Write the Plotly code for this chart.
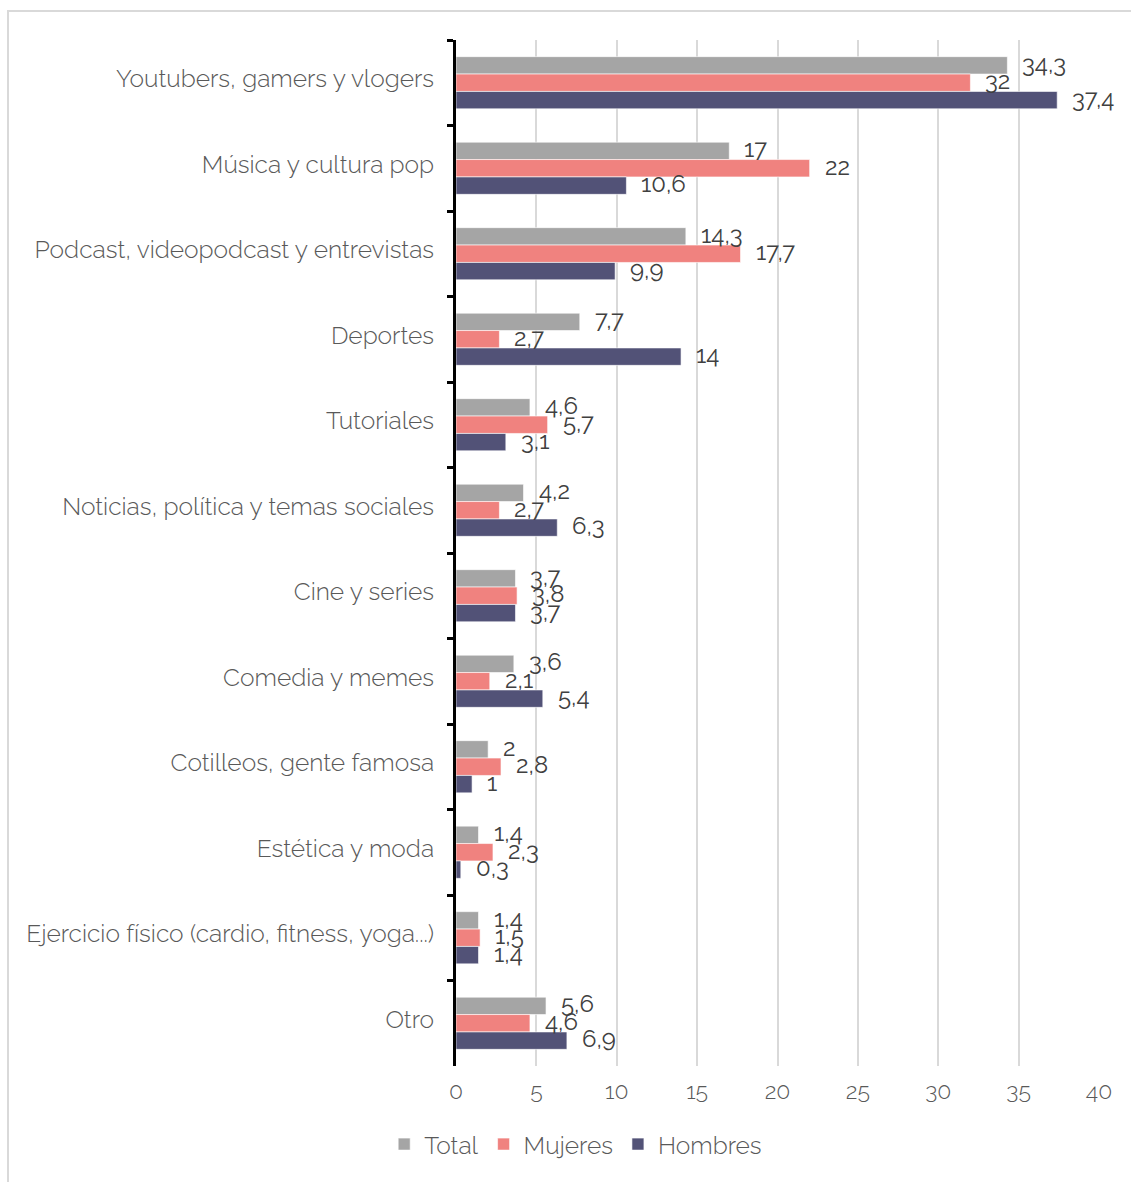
import plotly.graph_objects as go

categorias = [
    "Youtubers, gamers y vlogers",
    "Música y cultura pop",
    "Podcast, videopodcast y entrevistas",
    "Deportes",
    "Tutoriales",
    "Noticias, política y temas sociales",
    "Cine y series",
    "Comedia y memes",
    "Cotilleos, gente famosa",
    "Estética y moda",
    "Ejercicio físico (cardio, fitness, yoga...)",
    "Otro",
]
total = [34.3, 17, 14.3, 7.7, 4.6, 4.2, 3.7, 3.6, 2, 1.4, 1.4, 5.6]
mujeres = [32, 22, 17.7, 2.7, 5.7, 2.7, 3.8, 2.1, 2.8, 2.3, 1.5, 4.6]
hombres = [37.4, 10.6, 9.9, 14, 3.1, 6.3, 3.7, 5.4, 1, 0.3, 1.4, 6.9]
x_ticks = [0, 5, 10, 15, 20, 25, 30, 35, 40]

FONT = "Raleway, Lato, 'Open Sans', sans-serif"
TXT = "#595959"

# plot-area geometry (pixels), used to place the value labels beside each bar
ALTO_PLOT = 1182 - 40 - 116
BARGAP = 0.39
GROSOR = ALTO_PLOT / len(categorias) * (1 - BARGAP) / 3


def etiqueta(v):
    return f"{v:g}".replace(".", ",")


series = [
    ("Total", total, "#A5A5A5"),
    ("Mujeres", mujeres, "#F0827F"),
    ("Hombres", hombres, "#525277"),
]

fig = go.Figure()
anotaciones = []
for k, (nombre, vals, color) in enumerate(series):
    fig.add_trace(go.Bar(
        name=nombre,
        y=categorias,
        x=vals,
        orientation="h",
        marker=dict(color=color, line=dict(color="rgba(255,255,255,0.6)", width=1)),
    ))
    for cat, v in zip(categorias, vals):
        anotaciones.append(dict(
            x=v,
            y=cat,
            xref="x",
            yref="y",
            text=etiqueta(v),
            showarrow=False,
            xanchor="left",
            yanchor="middle",
            xshift=13,
            yshift=(1 - k) * GROSOR + 2,
            font=dict(family=FONT, size=24, color="#404040", weight=400),
        ))

fig.update_layout(
    width=1131,
    height=1182,
    margin=dict(l=456, r=32, t=40, b=116),
    paper_bgcolor="white",
    plot_bgcolor="white",
    barmode="group",
    bargap=BARGAP,
    bargroupgap=0,
    font=dict(family=FONT, color=TXT, size=22, weight=300),
    annotations=anotaciones,
    xaxis=dict(
        range=[0, 40],
        tickvals=x_ticks,
        ticktext=[str(t) for t in x_ticks],
        showgrid=True,
        gridcolor="#D9D9D9",
        gridwidth=2,
        zeroline=False,
        showline=False,
        ticks="",
        ticklabelstandoff=9,
        tickfont=dict(family=FONT, size=23, color=TXT, weight=300),
    ),
    yaxis=dict(
        autorange="reversed",
        showline=True,
        linecolor="black",
        linewidth=3,
        ticks="outside",
        tickson="boundaries",
        ticklen=6,
        tickwidth=3,
        tickcolor="black",
        ticklabelstandoff=14,
        ticklabelshift=4,
        showgrid=False,
        tickfont=dict(family=FONT, size=24.5, color=TXT, weight=300),
    ),
    legend=dict(
        orientation="h",
        xref="container",
        yref="container",
        x=0.509,
        y=0.032,
        xanchor="center",
        yanchor="middle",
        font=dict(family=FONT, size=24.5, color=TXT, weight=300),
        itemwidth=30,
        traceorder="normal",
    ),
    shapes=[
        dict(
            type="rect",
            xref="paper",
            yref="paper",
            x0=(8 - 456) / 643,
            x1=(1140 - 456) / 643,
            y0=(1066 - 1190) / 1026,
            y1=(1066 - 11) / 1026,
            line=dict(color="#D9D9D9", width=2),
            fillcolor="rgba(0,0,0,0)",
            layer="below",
        )
    ],
)

fig.write_html("out.html")
